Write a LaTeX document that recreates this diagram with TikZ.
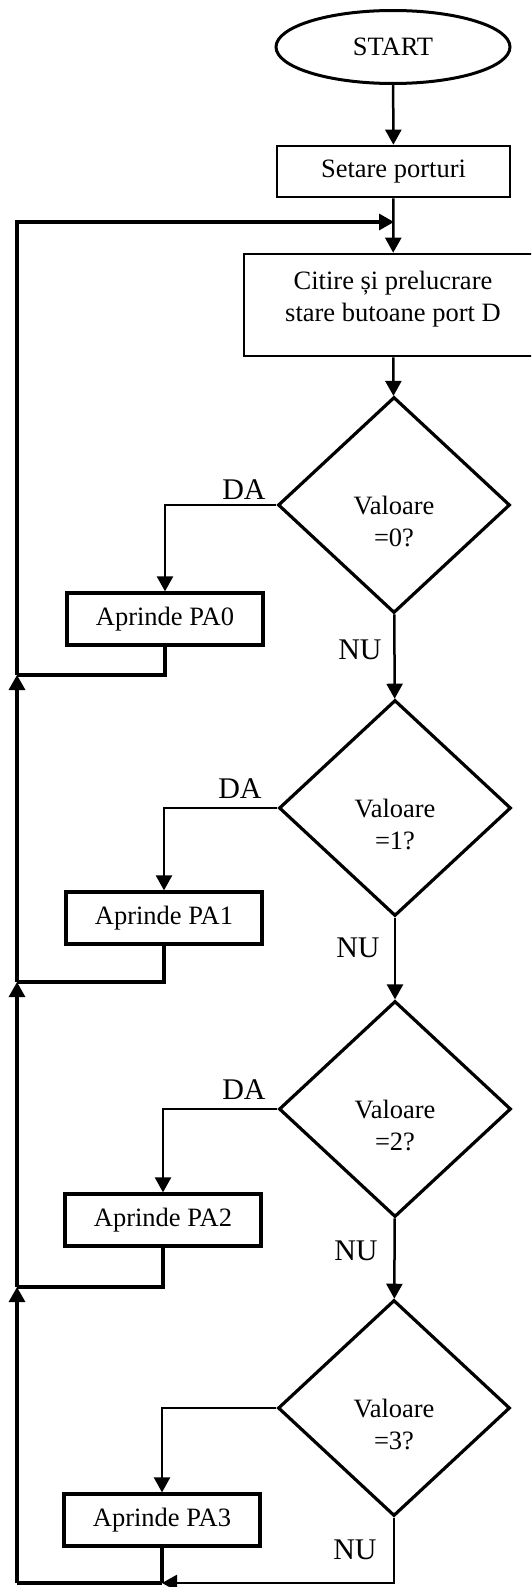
\documentclass[tikz,border=0pt]{standalone}
\usepackage{fontspec}
\setmainfont{Liberation Serif}
\usetikzlibrary{shapes.geometric,arrows.meta}
\begin{document}
\begin{tikzpicture}[x=1pt,y=-1pt,
  txtfont/.style={font=\fontsize{26.5}{32}\selectfont},
  lblfont/.style={font=\fontsize{30}{34}\selectfont},
  term/.style={draw, ellipse, line width=3pt, inner sep=0pt, minimum width=234pt, minimum height=73pt, txtfont},
  box/.style={draw, rectangle, line width=2.6pt, inner sep=0pt, txtfont},
  actbox/.style={draw, rectangle, line width=3.2pt, inner sep=0pt, minimum width=196pt, minimum height=52pt, txtfont},
  dec/.style={draw, diamond, line width=3.2pt, inner sep=0pt, minimum width=232pt, minimum height=216pt},
  dectxt/.style={align=center, inner sep=0pt, txtfont},
  lbl/.style={inner sep=0pt, lblfont},
  tip/.style={-{Triangle[width=16pt,length=15pt]}},
  conn/.style={line width=2.5pt, tip},
  branch/.style={line width=2.2pt, tip},
  back/.style={line width=3.2pt},
  backarr/.style={line width=3.2pt, tip}
]
\useasboundingbox (0,0) rectangle (531,1587);
\clip (0,0) rectangle (531,1587);

% nodes
\node[term] (start) at (393,47) {START};
\node[box, minimum width=233pt, minimum height=51pt] (setare) at (393.5,171.5) {Setare porturi};
\node[box, minimum width=298pt, minimum height=102pt] (citire) at (393,305) {};
\node[dectxt] (citiretxt) at (393,299) {Citire și prelucrare\\stare butoane port D};

\node[dec] (d1) at (394,505) {};
\node[dectxt] (t1) at (394,521) {Valoare\\=0?};
\node[dec] (d2) at (395,808) {};
\node[dectxt] (t2) at (395,824) {Valoare\\=1?};
\node[dec] (d3) at (395,1109) {};
\node[dectxt] (t3) at (395,1125) {Valoare\\=2?};
\node[dec] (d4) at (394,1408) {};
\node[dectxt] (t4) at (394,1424) {Valoare\\=3?};

\node[actbox] (pa0) at (165,619) {Aprinde PA0};
\node[actbox] (pa1) at (164,918) {Aprinde PA1};
\node[actbox] (pa2) at (163,1220) {Aprinde PA2};
\node[actbox] (pa3) at (162,1520) {Aprinde PA3};

% labels
\node[lbl] (da1) at (244,490) {DA};
\node[lbl] (da2) at (240,789) {DA};
\node[lbl] (da3) at (244,1090) {DA};
\node[lbl] (nu1) at (360,650) {NU};
\node[lbl] (nu2) at (358,948) {NU};
\node[lbl] (nu3) at (356,1251) {NU};
\node[lbl] (nu4) at (355,1550) {NU};

% coordinates
\coordinate (jt) at (394,222);
\coordinate (tl) at (17,222);
\coordinate (j0) at (17,675);
\coordinate (j1) at (17,982);
\coordinate (j2) at (17,1287);
\coordinate (bl) at (17,1583);
\coordinate (jb) at (pa3.south |- bl);
\coordinate (bd) at (d4.south |- bl);

% main flow
\draw[conn] (start) -- (setare);
\draw[conn] (setare) -- (citire);
\draw[conn] (citire) -- (d1);
\draw[conn] (d1) -- (d2);
\draw[conn] (d2) -- (d3);
\draw[conn] (d3) -- (d4);

% DA branches
\draw[branch] (d1.west) -| (pa0);
\draw[branch] (d2.west) -| (pa1);
\draw[branch] (d3.west) -| (pa2);
\draw[branch] (d4.west) -| (pa3);

% returns
\draw[back] (pa0.south) |- (j0);
\draw[back] (pa1.south) |- (j1);
\draw[back] (pa2.south) |- (j2);
\draw[back] (pa3.south) -- (jb);
\draw[conn] (d4.south) -- (bd) -- (jb);
\draw[back] (jb) -- (bl);
\draw[backarr] (bl) -- (j2);
\draw[backarr] (j2) -- (j1);
\draw[backarr] (j1) -- (j0);
\draw[backarr] (j0) -- (tl) -- (jt);
\end{tikzpicture}
\end{document}
